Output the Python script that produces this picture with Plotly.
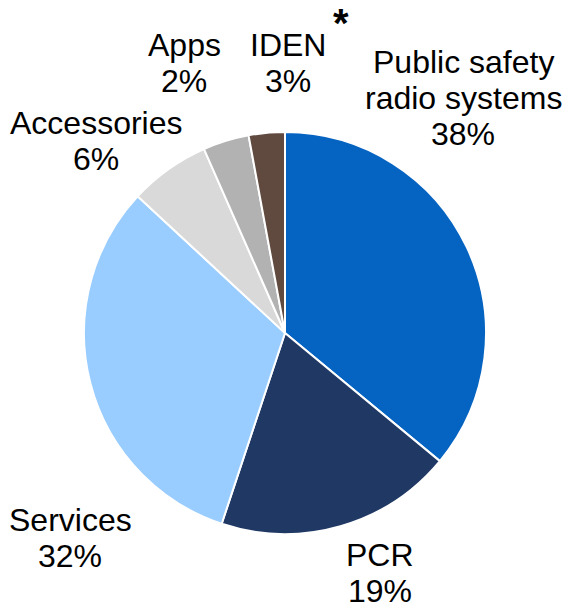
import plotly.graph_objects as go

categories = ["Public safety radio systems", "PCR", "Services", "Accessories", "Apps", "IDEN"]
values = [36.0, 19.1, 31.8, 6.5, 3.7, 2.9]
label_lines = [["Public safety", "radio systems", "38%"], ["PCR", "19%"], ["Services", "32%"],
               ["Accessories", "6%"], ["Apps", "2%"], ["IDEN", "3%"]]
colors = ["#0563C1", "#1F3864", "#99CCFF", "#D9D9D9", "#B2B2B2", "#604A3F"]

W, H = 564, 610
cx, cy, r = 285, 333, 201

fig = go.Figure(go.Pie(
    labels=categories, values=values, sort=False, direction="clockwise", rotation=0,
    marker=dict(colors=colors, line=dict(color="white", width=2)),
    textinfo="none", hoverinfo="label+percent", showlegend=False,
    domain=dict(x=[(cx - r) / W, (cx + r) / W], y=[(H - cy - r) / H, (H - cy + r) / H]),
))

# label centers (px from top-left) of the first line, lines spaced ~36px
label_pos = [(463, 62), (380, 555), (70, 520), (96, 123), (184, 45), (288, 45)]
line_gap = 36
for lines, (x, y) in zip(label_lines, label_pos):
    for i, t in enumerate(lines):
        fig.add_annotation(x=x / W, y=1 - (y + i * line_gap) / H, xref="paper", yref="paper",
                           text=t, showarrow=False, xanchor="center", yanchor="middle",
                           font=dict(family="Liberation Sans, Arial", size=32, color="black"))
fig.add_annotation(x=341 / W, y=1.0, xref="paper", yref="paper", text="<b>*</b>",
                   showarrow=False, xanchor="center", yanchor="top", borderpad=0,
                   font=dict(family="Liberation Sans, Arial", size=40, color="black"))

fig.update_layout(width=W, height=H, margin=dict(l=0, r=0, t=0, b=0),
                  paper_bgcolor="white", plot_bgcolor="white")
fig.write_html("out.html")
